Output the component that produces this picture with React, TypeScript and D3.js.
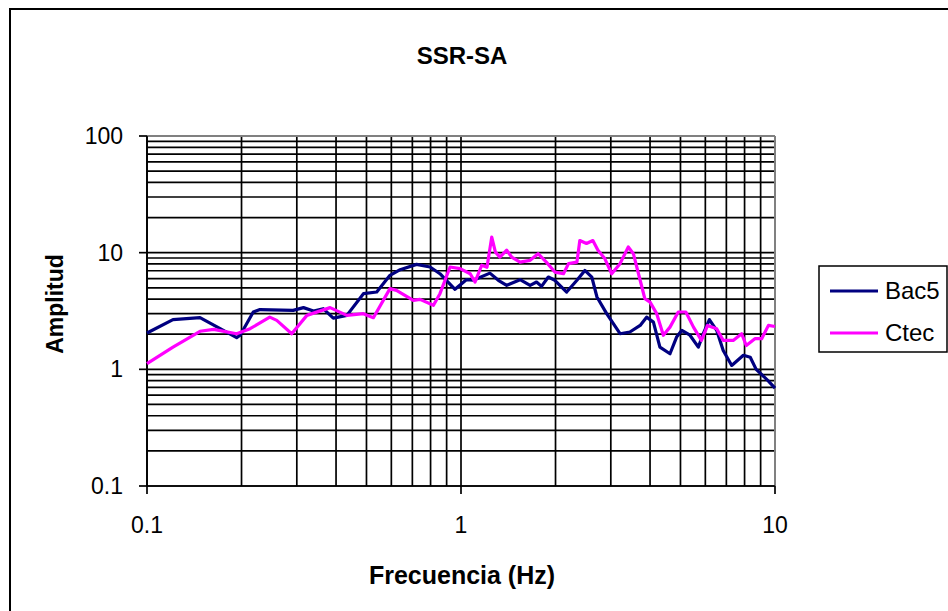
import React from "react";
import * as d3 from "d3";

// Frequency (Hz) and spectral ratio amplitude for each station
const bac5Freq = [0.1, 0.121, 0.1475, 0.171, 0.193, 0.198, 0.218, 0.229, 0.292, 0.315, 0.339, 0.364, 0.392, 0.433, 0.489, 0.539, 0.594, 0.64, 0.722, 0.797, 0.857, 0.957, 1.04, 1.094, 1.236, 1.315, 1.398, 1.542, 1.66, 1.74, 1.805, 1.897, 1.99, 2.17, 2.34, 2.48, 2.61, 2.71, 2.91, 3.21, 3.45, 3.72, 3.9, 4.1, 4.3, 4.63, 4.86, 5.05, 5.36, 5.7, 5.91, 6.18, 6.52, 6.84, 7.28, 7.93, 8.34, 8.71, 9.5, 10];
const bac5Amp = [2.05, 2.67, 2.77, 2.23, 1.87, 1.96, 3.1, 3.25, 3.2, 3.38, 3.16, 3.31, 2.75, 2.9, 4.45, 4.6, 6.39, 7.15, 7.94, 7.53, 6.6, 4.85, 5.87, 5.8, 6.68, 5.8, 5.25, 5.87, 5.25, 5.6, 5.14, 6.18, 5.8, 4.6, 5.8, 7.05, 6.18, 4.17, 3.0, 2.02, 2.09, 2.38, 2.8, 2.54, 1.55, 1.36, 1.89, 2.16, 1.96, 1.55, 2.02, 2.67, 2.16, 1.45, 1.08, 1.32, 1.27, 1.0, 0.8, 0.69];

const ctecFreq = [0.1, 0.121, 0.1475, 0.163, 0.193, 0.213, 0.246, 0.259, 0.289, 0.323, 0.383, 0.433, 0.489, 0.526, 0.594, 0.623, 0.705, 0.74, 0.817, 0.857, 0.923, 0.993, 1.07, 1.108, 1.164, 1.21, 1.253, 1.287, 1.33, 1.398, 1.45, 1.542, 1.66, 1.76, 1.87, 1.99, 2.12, 2.2, 2.34, 2.39, 2.51, 2.63, 2.73, 2.87, 3.02, 3.21, 3.41, 3.54, 3.72, 3.85, 4.0, 4.2, 4.41, 4.63, 4.92, 5.2, 5.5, 5.83, 6.1, 6.52, 6.84, 7.36, 7.83, 8.1, 8.63, 9.07, 9.53, 10];
const ctecAmp = [1.12, 1.55, 2.12, 2.2, 2.02, 2.23, 2.8, 2.63, 2.02, 2.9, 3.38, 2.9, 3.0, 2.77, 4.92, 4.75, 3.9, 3.98, 3.54, 4.45, 7.53, 7.3, 6.6, 5.6, 7.8, 7.5, 13.6, 10.1, 9.17, 10.5, 9.17, 8.3, 8.6, 9.8, 8.3, 6.82, 6.6, 8.05, 8.3, 12.7, 12.0, 12.7, 10.5, 8.9, 6.6, 8.05, 11.2, 9.8, 5.8, 4.03, 3.77, 3.0, 1.96, 2.3, 3.1, 3.1, 2.3, 1.77, 2.38, 2.23, 1.77, 1.77, 2.02, 1.6, 1.83, 1.83, 2.38, 2.33];

const xTickLabels = ["0.1", "1", "10"];
const yTickLabels = ["0.1", "1", "10", "100"];

const series = [
  { name: "Bac5", color: "#000080", freq: bac5Freq, amp: bac5Amp },
  { name: "Ctec", color: "#FF00FF", freq: ctecFreq, amp: ctecAmp },
];

const W = 948;
const H = 611;
const plot = { left: 147, right: 775, top: 136, bottom: 486 };
const font = "'Liberation Sans', Arial, sans-serif";

export default function App() {
  const x = d3.scaleLog().domain([0.1, 10]).range([plot.left, plot.right]);
  const y = d3.scaleLog().domain([0.1, 100]).range([plot.bottom, plot.top]);

  // Gridlines at every 1..9 multiple of each decade
  const xGrid: number[] = [];
  for (let d = 0.1; d < 10; d *= 10) for (let k = 1; k <= 9; k++) xGrid.push(+(d * k).toPrecision(3));
  xGrid.push(10);
  const yGrid: number[] = [];
  for (let d = 0.1; d < 100; d *= 10) for (let k = 1; k <= 9; k++) yGrid.push(+(d * k).toPrecision(3));
  yGrid.push(100);

  const line = d3
    .line<[number, number]>()
    .x((d) => x(d[0]))
    .y((d) => y(d[1]));

  return (
    <svg width={W} height={H} style={{ position: "absolute", left: 0, top: 0, background: "#fff" }}>
      <rect x={10} y={9} width={W + 20} height={H + 20} fill="#fff" stroke="#000" strokeWidth={2} />

      <text x={462} y={64} textAnchor="middle" fontFamily={font} fontWeight="bold" fontSize={24}>
        SSR-SA
      </text>

      {/* gridlines */}
      <g stroke="#000" strokeWidth={1.7}>
        {xGrid.map((v, i) => (
          <line key={"gx" + i} x1={x(v)} x2={x(v)} y1={plot.top} y2={plot.bottom} />
        ))}
        {yGrid.map((v, i) => (
          <line key={"gy" + i} x1={plot.left} x2={plot.right} y1={y(v)} y2={y(v)} />
        ))}
      </g>

      {/* plot area border (top/right) */}
      <line x1={plot.left} x2={plot.right} y1={plot.top} y2={plot.top} stroke="#808080" strokeWidth={2} />
      <line x1={plot.right} x2={plot.right} y1={plot.top} y2={plot.bottom} stroke="#808080" strokeWidth={2} />

      {/* axes */}
      <g stroke="#000" strokeWidth={1.7}>
        <line x1={plot.left} x2={plot.left} y1={plot.top} y2={plot.bottom} />
        <line x1={plot.left} x2={plot.right} y1={plot.bottom} y2={plot.bottom} />
        {yTickLabels.map((t) => (
          <line key={"ty" + t} x1={plot.left - 8} x2={plot.left} y1={y(+t)} y2={y(+t)} />
        ))}
        {xTickLabels.map((t) => (
          <line key={"tx" + t} x1={x(+t)} x2={x(+t)} y1={plot.bottom} y2={plot.bottom + 8} />
        ))}
      </g>

      <g fontFamily={font} fontSize={23} fill="#000">
        {yTickLabels.map((t) => (
          <text key={"ly" + t} x={123} y={y(+t)} dy="0.35em" textAnchor="end">
            {t}
          </text>
        ))}
        {xTickLabels.map((t) => (
          <text key={"lx" + t} x={x(+t)} y={533} textAnchor="middle">
            {t}
          </text>
        ))}
      </g>

      {/* series */}
      {series.map((s) => (
        <path
          key={s.name}
          d={line(s.freq.map((f, i) => [f, s.amp[i]] as [number, number])) || ""}
          fill="none"
          stroke={s.color}
          strokeWidth={3.2}
          strokeLinejoin="round"
        />
      ))}

      <text
        transform={`translate(63,304) rotate(-90)`}
        textAnchor="middle"
        fontFamily={font}
        fontWeight="bold"
        fontSize={23}
      >
        Amplitud
      </text>
      <text x={462} y={584} textAnchor="middle" fontFamily={font} fontWeight="bold" fontSize={25}>
        Frecuencia (Hz)
      </text>

      {/* legend */}
      <rect x={819} y={266} width={128} height={86} fill="#fff" stroke="#000" strokeWidth={1.5} />
      {series.map((s, i) => (
        <g key={"lg" + s.name}>
          <line x1={830} x2={878} y1={291 + i * 42} y2={291 + i * 42} stroke={s.color} strokeWidth={3.2} />
          <text x={885} y={291 + i * 42} dy="0.35em" fontFamily={font} fontSize={24}>
            {s.name}
          </text>
        </g>
      ))}
    </svg>
  );
}
